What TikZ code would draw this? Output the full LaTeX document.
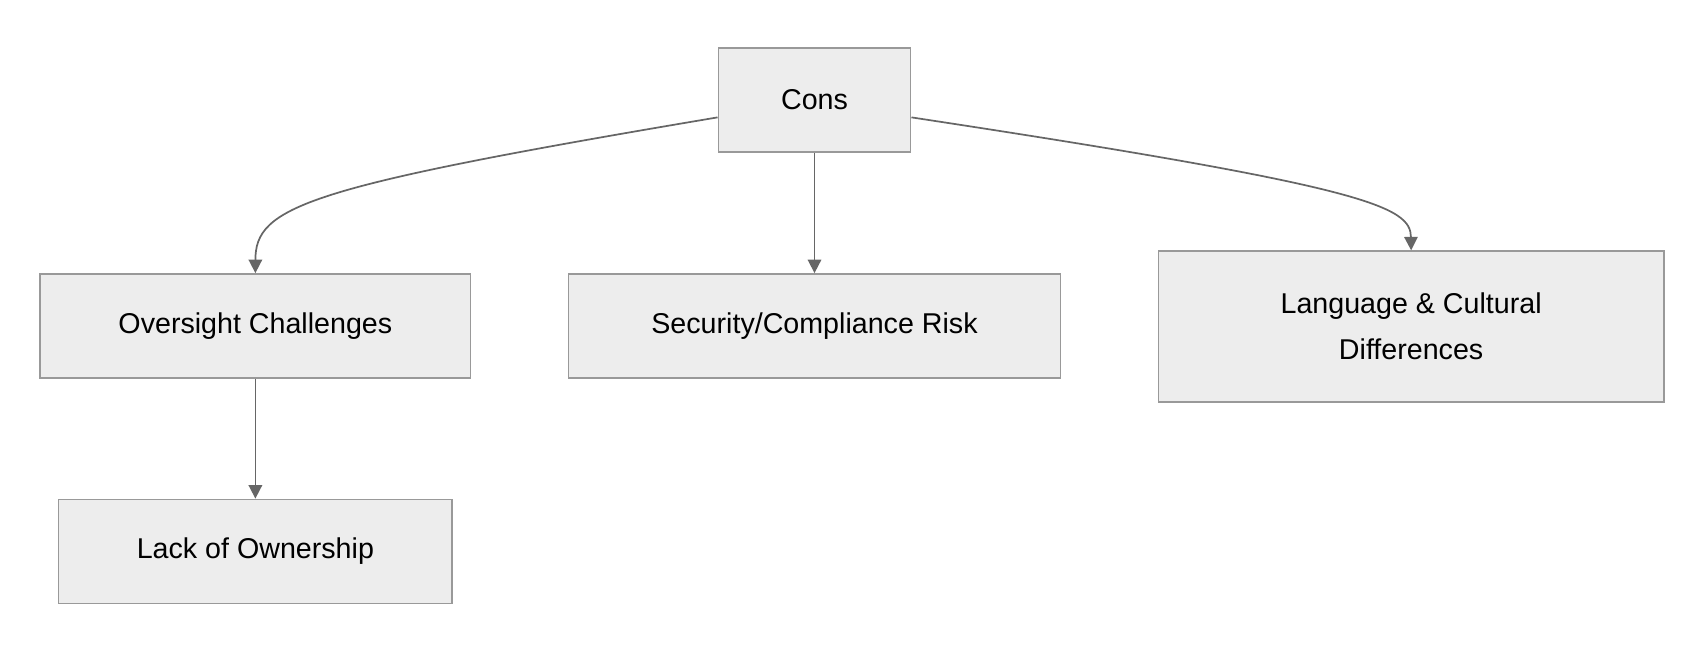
\documentclass[tikz,border=0pt]{standalone}
\usepackage{fontspec}
\setmainfont{Liberation Sans}
\usetikzlibrary{calc,arrows.meta}
\tikzset{
  box/.style={draw=black!40, fill=black!7, line width=0.8pt, align=center, inner sep=0pt, font=\fontsize{15}{24}\selectfont},
  link/.style={draw=black!60, line width=0.9pt, -{Triangle[length=7pt,width=7pt]}}
}
\begin{document}
\begin{tikzpicture}[x=0.02cm,y=-0.02cm]
        \useasboundingbox[fill=white](0,0)rectangle(1568,600);
        \node[box,minimum width=177*0.02cm,minimum height=96*0.02cm](cons)at(749.5,92){Cons};
        \node[box,minimum width=396*0.02cm,minimum height=96*0.02cm](over)at(235,300){Oversight Challenges};
        \node[box,minimum width=453*0.02cm,minimum height=96*0.02cm](sec)at(749.5,300){Security/Compliance Risk};
        \node[box,minimum width=465*0.02cm,minimum height=139*0.02cm](lang)at(1298.5,300.5){Language \& Cultural\\Differences};
        \node[box,minimum width=362*0.02cm,minimum height=96*0.02cm](lack)at(235,507.5){Lack of Ownership};
        \draw[link]($(cons.west)+(0,16)$)..controls(280,172)and(235,190)..(over.north);
        \draw[link](cons.south)--(sec.north);
        \draw[link]($(cons.east)+(0,16)$)..controls(1260,172)and(1298,190)..(lang.north);
        \draw[link](over.south)--(lack.north);
    \end{tikzpicture}
\end{document}
